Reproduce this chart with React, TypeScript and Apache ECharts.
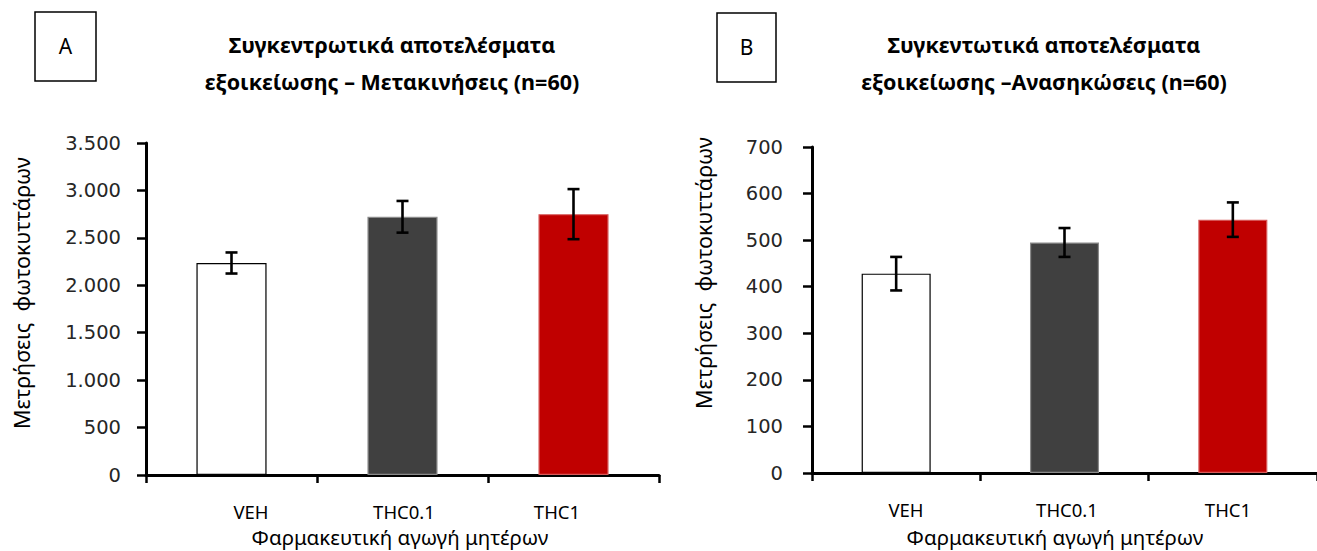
import React, { useEffect, useRef } from "react";
import * as echarts from "echarts";

const categories = ["VEH", "THC0.1", "THC1"];
const movementMeans = [2235, 2722, 2750];
const movementErrors = [111, 167, 264];
const rearingMeans = [428, 495, 544];
const rearingErrors = [36, 31, 37];
const barColors = ["#ffffff", "#404040", "#c00000"];
const barBorders = ["#000000", "#8a8a8a", "#d65a5a"];
const movementTicks = { min: 0, max: 3500, interval: 500 };
const rearingTicks = { min: 0, max: 700, interval: 100 };
const titleA = "Συγκεντρωτικά αποτελέσματα\nεξοικείωσης – Μετακινήσεις (n=60)";
const titleB = "Συγκεντωτικά αποτελέσματα\nεξοικείωσης –Ανασηκώσεις (n=60)";
const yName = "Μετρήσεις  φωτοκυττάρων";
const xName = "Φαρμακευτική αγωγή μητέρων";

const TEXT_FONT = "'Noto Sans', 'Open Sans', sans-serif";
const TICK_FONT = "'DejaVu Sans', Verdana, sans-serif";

function fmt(v: number) {
  return String(v).replace(/\B(?=(\d{3})+(?!\d))/g, ".");
}

function errorSeries(idx: number, means: number[], errs: number[]) {
  return {
    type: "custom",
    xAxisIndex: idx,
    yAxisIndex: idx,
    z: 5,
    encode: { x: 0, y: 1 },
    data: categories.map((_, i) => [i, means[i], errs[i]]),
    renderItem: (_params: any, api: any) => {
      const x = api.value(0);
      const m = api.value(1);
      const e = api.value(2);
      const top = api.coord([x, m + e]);
      const bot = api.coord([x, m - e]);
      const cap = 6;
      const style = { stroke: "#000", lineWidth: 2.6 };
      return {
        type: "group",
        children: [
          { type: "line", shape: { x1: top[0], y1: top[1], x2: bot[0], y2: bot[1] }, style },
          { type: "line", shape: { x1: top[0] - cap, y1: top[1], x2: top[0] + cap, y2: top[1] }, style },
          { type: "line", shape: { x1: bot[0] - cap, y1: bot[1], x2: bot[0] + cap, y2: bot[1] }, style },
        ],
      };
    },
  };
}

function barSeries(idx: number, means: number[]) {
  return {
    type: "bar",
    xAxisIndex: idx,
    yAxisIndex: idx,
    barWidth: "41%",
    data: means.map((v, i) => ({
      value: v,
      itemStyle: { color: barColors[i], borderColor: barBorders[i], borderWidth: 1.2 },
    })),
  };
}

export default function App() {
  const ref = useRef<HTMLDivElement>(null);
  useEffect(() => {
    if (!ref.current) return;
    const chart = echarts.init(ref.current, undefined, { renderer: "svg" });
    const axisLine = { show: true, lineStyle: { color: "#000", width: 3 } };
    const axisTick = { show: true, length: 8, lineStyle: { color: "#000", width: 2.5 } };
    const plotX = (gi: number) => ({
      type: "category",
      gridIndex: gi,
      data: categories,
      axisLine,
      axisTick: { ...axisTick, alignWithLabel: false },
      axisLabel: { show: false },
      splitLine: { show: false },
    });
    const labelX = (gi: number) => ({
      type: "category",
      gridIndex: gi,
      data: categories,
      axisLine: { show: false },
      axisTick: { show: false },
      axisLabel: { show: true, margin: 27, color: "#000", fontSize: 18.5, fontFamily: TEXT_FONT },
    });
    const plotY = (gi: number, t: any, margin: number) => ({
      type: "value",
      gridIndex: gi,
      min: t.min,
      max: t.max,
      interval: t.interval,
      axisLine,
      axisTick: { ...axisTick, length: 9 },
      splitLine: { show: false },
      axisLabel: { margin, color: "#262626", fontSize: 19.5, fontFamily: TICK_FONT, formatter: (v: number) => fmt(v) },
    });
    const hiddenY = (gi: number) => ({ type: "value", gridIndex: gi, min: 0, max: 1, show: false });
    const txt = (text: string, x: number, y: number, size: number, extra: any = {}) => ({
      type: "text",
      x,
      y,
      ...extra,
      style: { text, fontSize: size, fontFamily: TEXT_FONT, fill: "#000", align: "center", verticalAlign: "middle", ...(extra.style || {}) },
    });

    chart.setOption({
      animation: false,
      backgroundColor: "#fff",
      grid: [
        { left: 146, top: 143, width: 513, height: 332 },
        { left: 812, top: 147, width: 513, height: 326 },
        { left: 174.5, top: 143, width: 459, height: 332 },
        { left: 825.5, top: 147, width: 483, height: 326 },
      ],
      xAxis: [plotX(0), plotX(1), labelX(2), labelX(3)],
      yAxis: [plotY(0, movementTicks, 25), plotY(1, rearingTicks, 29), hiddenY(2), hiddenY(3)],
      series: [
        barSeries(0, movementMeans),
        errorSeries(0, movementMeans, movementErrors),
        barSeries(1, rearingMeans),
        errorSeries(1, rearingMeans, rearingErrors),
      ],
      graphic: [
        { type: "rect", shape: { x: 35, y: 12, width: 61, height: 69 }, style: { fill: "none", stroke: "#000", lineWidth: 1.5 } },
        txt("A", 65.5, 46, 21),
        { type: "rect", shape: { x: 717, y: 13, width: 59, height: 69 }, style: { fill: "none", stroke: "#000", lineWidth: 1.5 } },
        txt("B", 746.5, 47, 21),
        txt(titleA, 392, 63, 21.5, { style: { fontWeight: "bold", lineHeight: 37 } }),
        txt(titleB, 1044, 63, 21.5, { style: { fontWeight: "bold", lineHeight: 37 } }),
        txt(xName, 400, 537, 20.5, { style: { lineHeight: 22 } }),
        txt(xName, 1055, 537, 20.5, { style: { lineHeight: 22 } }),
        txt(yName, 21.5, 293, 21.5, { rotation: Math.PI / 2 }),
        txt(yName, 703, 273, 21.5, { rotation: Math.PI / 2 }),
      ],
    });
    return () => chart.dispose();
  }, []);
  return <div ref={ref} style={{ position: "absolute", left: 0, top: 0, width: 1317, height: 551 }} />;
}
